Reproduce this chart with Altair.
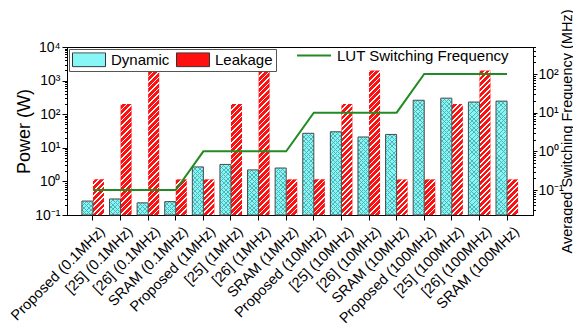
import math
import altair as alt
import pandas as pd

# ---------------- data ----------------
categories = [
    "Proposed (0.1MHz)", "[25] (0.1MHz)", "[26] (0.1MHz)", "SRAM (0.1MHz)",
    "Proposed (1MHz)", "[25] (1MHz)", "[26] (1MHz)", "SRAM (1MHz)",
    "Proposed (10MHz)", "[25] (10MHz)", "[26] (10MHz)", "SRAM (10MHz)",
    "Proposed (100MHz)", "[25] (100MHz)", "[26] (100MHz)", "SRAM (100MHz)",
]
dynamic = [0.26, 0.30, 0.23, 0.25,
           2.7, 3.2, 2.2, 2.5,
           27, 30, 21, 25,
           260, 300, 230, 245]
leakage = [1.15, 200, 2000, 1.15,
           1.15, 200, 2000, 1.15,
           1.15, 200, 2000, 1.15,
           1.15, 200, 2000, 1.15]
frequency = [0.1, 0.1, 0.1, 0.1,
             1, 1, 1, 1,
             10, 10, 10, 10,
             100, 100, 100, 100]
series_types = ["Dynamic", "Leakage"]
line_name = "LUT Switching Frequency"

bars_df = pd.DataFrame({
    "cat": categories * 2,
    "type": ["Dynamic"] * len(categories) + ["Leakage"] * len(categories),
    "value": dynamic + leakage,
})
line_df = pd.DataFrame({"cat": categories, "freq": frequency, "series": line_name})

# ---------------- style / layout ----------------
FONT = "Liberation Sans"
PLOT_W, PLOT_H = 466, 168
PAD_IN, PAD_OUT = 0.2, 0.54
Y_DOMAIN = [0.1, 10000]
F_DOMAIN = [0.0226, 500]
CYAN = "#86F6F6"
RED = "#FF1010"
GREEN = "#238B23"

step = PLOT_W / (len(categories) - PAD_IN + 2 * PAD_OUT)
bar_w = step * (1 - PAD_IN) / 2
px_per_decade = PLOT_H / math.log10(Y_DOMAIN[1] / Y_DOMAIN[0])


def bar_h(v):
    return math.log10(v / Y_DOMAIN[0]) * px_per_decade


def stripes(w, h, period, frac, color, back="rgba(255,255,255,0)", flip=False):
    n = (w + h) / period
    c = (w + h) / (w * w + h * h)
    a, b = w * c, h * c
    if flip:
        x1, y1, x2, y2 = 0, 1, a, 1 - b
    else:
        x1, y1, x2, y2 = 0, 0, a, b
    stops = []
    k = 0
    while k / n < 1:
        s = k / n
        e = min((k + frac) / n, 1)
        stops += [alt.GradientStop(color=back, offset=s),
                  alt.GradientStop(color=color, offset=s),
                  alt.GradientStop(color=color, offset=e),
                  alt.GradientStop(color=back, offset=e)]
        k += 1
    return alt.LinearGradient(gradient="linear", stops=stops,
                              x1=x1, y1=y1, x2=x2, y2=y2)


IS_POW = "abs(log(datum.value)/LN10 - round(log(datum.value)/LN10)) < 1e-6"
sup = {-2: "⁻²", -1: "⁻¹", 0: "⁰", 1: "¹", 2: "²", 3: "³", 4: "⁴"}
expo = "round(log(datum.value)/LN10)"
inner = "".join(f"{expo} == {k} ? '{v}' : " for k, v in sup.items()) + "''"
label_expr = f"({IS_POW}) ? '10' + ({inner}) : ''"


def log_ticks(lo, hi):
    vals = []
    e = math.floor(math.log10(lo))
    while 10 ** e <= hi:
        for j in range(1, 10):
            t = j * 10 ** e
            if lo <= t <= hi * 1.0000001:
                vals.append(t)
        e += 1
    return vals


tick_size = {"condition": {"test": IS_POW, "value": 5}, "value": 2.5}
tick_size_r = {"condition": {"test": IS_POW, "value": 4}, "value": 2.5}

X = alt.X("cat:N", title=None,
          scale=alt.Scale(domain=categories, paddingInner=PAD_IN, paddingOuter=PAD_OUT),
          axis=alt.Axis(labelAngle=-45, labelFontSize=14.5, labelColor="black",
                        tickColor="black", tickSize=5, domainColor="black",
                        labelPadding=4, labelOffset=5, labelBound=False, grid=False))
XO = alt.XOffset("type:N", scale=alt.Scale(domain=series_types, paddingInner=0, paddingOuter=0))
Y = alt.Y("value:Q", title="Power (W)",
          scale=alt.Scale(type="log", domain=Y_DOMAIN, nice=False),
          axis=alt.Axis(values=log_ticks(Y_DOMAIN[0], Y_DOMAIN[1]),
                        labelExpr=label_expr, labelOverlap=False, labelBound=False,
                        labelFontSize=14, labelColor="black", tickColor="black",
                        tickSize=tick_size, domainColor="black", grid=False,
                        titleFontSize=18, titleFontWeight="normal", titleColor="black",
                        titlePadding=1, labelPadding=2))
Y2 = alt.datum(Y_DOMAIN[0])

base = alt.Chart(bars_df)

fill_legend = alt.Legend(
    title=None, orient="none", legendX=2, legendY=2, direction="horizontal",
    symbolType="M-1,-0.42H1V0.42H-1Z", symbolSize=1089,
    symbolStrokeColor="#333333", symbolStrokeWidth=1, symbolOpacity=1,
    labelFontSize=15, labelColor="black", labelOffset=5, columnPadding=6,
    padding=3, strokeColor="#555555", fillColor="white", clipHeight=15,
)

bars = base.mark_bar().encode(
    x=X, xOffset=XO, y=Y, y2=Y2,
    fill=alt.Fill("type:N", scale=alt.Scale(domain=series_types, range=[CYAN, RED]),
                  legend=fill_legend),
)

layers = [bars]

# cross-hatch on dynamic bars
for cat, v in zip(categories, dynamic):
    h = bar_h(v)
    for flip in (False, True):
        layers.append(
            base.transform_filter((alt.datum.cat == cat) & (alt.datum.type == "Dynamic"))
            .mark_bar(fill=stripes(bar_w, h, 4.4, 0.22, "#52B4B4", flip=flip), strokeWidth=0)
            .encode(x=X, xOffset=XO, y=Y, y2=Y2)
        )

# diagonal hatch on leakage bars
for v in sorted(set(leakage)):
    h = bar_h(v)
    layers.append(
        base.transform_filter((alt.datum.type == "Leakage") & (alt.datum.value == v))
        .mark_bar(fill=stripes(bar_w, h, 5.5, 0.33, "#FFFFFF"), strokeWidth=0)
        .encode(x=X, xOffset=XO, y=Y, y2=Y2)
    )

# outline of dynamic bars
layers.append(
    base.transform_filter(alt.datum.type == "Dynamic")
    .mark_bar(fillOpacity=0, stroke="#4A4A4A", strokeWidth=1)
    .encode(x=X, xOffset=XO, y=Y, y2=Y2)
)

bar_layer = alt.layer(*layers)

line = alt.Chart(line_df).mark_line(strokeWidth=2).encode(
    x=X,
    y=alt.Y("freq:Q", title="Averaged Switching Frequency (MHz)",
            scale=alt.Scale(type="log", domain=F_DOMAIN, nice=False),
            axis=alt.Axis(orient="right",
                          values=log_ticks(F_DOMAIN[0], F_DOMAIN[1]),
                          labelExpr=label_expr, labelOverlap=False, labelBound=False,
                          labelFontSize=14, labelColor="black", tickColor="black",
                          tickSize=tick_size_r, domainColor="black", grid=False,
                          titleFontSize=14.5, titleFontWeight="normal", titleColor="black",
                          titleAngle=270, titleBaseline="top", titleX=27,
                          titleY=PLOT_H / 2, titleAlign="center",
                          labelPadding=1)),
    stroke=alt.Stroke("series:N", scale=alt.Scale(domain=[line_name], range=[GREEN]),
                      legend=alt.Legend(title=None, orient="none", legendX=229, legendY=1,
                                        symbolType="stroke", symbolSize=1156,
                                        symbolStrokeWidth=2, labelFontSize=15,
                                        labelColor="black", labelOffset=5,
                                        labelLimit=400, clipHeight=15, padding=0)),
)

chart = (
    alt.layer(bar_layer, line)
    .resolve_scale(y="independent")
    .properties(width=PLOT_W, height=PLOT_H,
                autosize=alt.AutoSizeParams(type="none"),
                padding={"left": 59, "top": 39, "right": 40, "bottom": 111})
    .configure(font=FONT)
    .configure_view(stroke="black", strokeWidth=1)
)

chart.save("out.html", embed_options={"renderer": "svg", "actions": False})
